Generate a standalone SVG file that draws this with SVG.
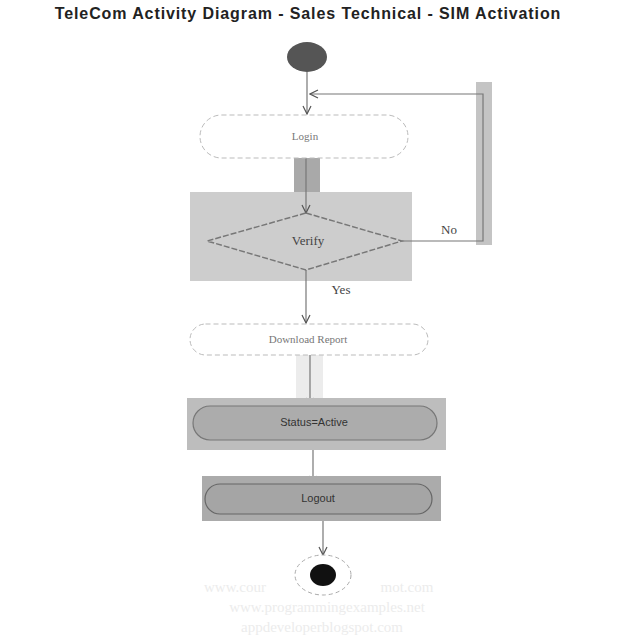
<svg xmlns="http://www.w3.org/2000/svg" width="640" height="640" viewBox="0 0 640 640">
<defs>
<style>
.title{font-family:"Liberation Sans",Arial,sans-serif;font-weight:bold;font-size:16px;letter-spacing:0.9px;fill:#222}
.lbl{font-family:"Liberation Serif","Times New Roman",serif;font-size:11px;fill:#777;text-anchor:middle;dominant-baseline:middle}
.lbld{font-family:"Liberation Sans",Arial,sans-serif;font-size:11px;fill:#333;text-anchor:middle;dominant-baseline:middle}
.guard{font-family:"Liberation Serif","Times New Roman",serif;font-size:13px;fill:#444;text-anchor:middle;dominant-baseline:middle}
.wm{font-family:"Liberation Serif","Times New Roman",serif;font-size:15px;fill:#ececec;text-anchor:middle}
.conn{fill:none;stroke:#777;stroke-width:1.2}
.pill{fill:#fff;stroke:#bbb;stroke-width:1;stroke-dasharray:5 3}
</style>
<marker id="arr" markerWidth="10" markerHeight="10" refX="9" refY="5" orient="auto" markerUnits="userSpaceOnUse">
<path d="M1,1 L9,5 L1,9" fill="none" stroke="#555" stroke-width="1.2"/>
</marker>
</defs>
<rect width="640" height="640" fill="#fff"/>
<text class="title" x="308" y="19" text-anchor="middle">TeleCom Activity Diagram - Sales Technical - SIM Activation</text>

<!-- highlight backgrounds -->
<rect x="476" y="82" width="16" height="163" fill="#c4c4c4"/>
<rect x="294" y="158" width="26" height="57" fill="#a9a9a9"/>
<rect x="190" y="192" width="222" height="89" fill="#cdcdcd"/>
<rect x="296" y="355" width="27" height="45" fill="#ececec"/>

<g id="connectors">
<path class="conn" d="M307,72 L307,114" marker-end="url(#arr)"/>
<path class="conn" d="M306,158 L306,213" stroke="#444" marker-end="url(#arr)"/>
<path class="conn" d="M402,241 L483,241 L483,94 L310,94" marker-end="url(#arr)"/>
<path class="conn" d="M306,270 L306,323" marker-end="url(#arr)"/>
<path class="conn" d="M310,355 L310,406" stroke="#444" marker-end="url(#arr)"/>
<path class="conn" d="M313,440 L313,484" stroke="#999" marker-end="url(#arr)"/>
<path class="conn" d="M323,514 L323,555" marker-end="url(#arr)"/>
<text class="guard" x="449" y="231">No</text>
<text class="guard" x="341" y="291">Yes</text>
</g>

<g id="start">
<ellipse cx="307" cy="57" rx="20" ry="15" fill="#555"/>
</g>

<g id="login">
<rect class="pill" x="200" y="115" width="208" height="43" rx="21.5"/>
<text class="lbl" x="305" y="137">Login</text>
</g>

<g id="verify">
<polygon points="306,213 402,241 306,270 207,241" fill="#cdcdcd" stroke="#777" stroke-width="1.5" stroke-dasharray="6 2"/>
<text class="guard" x="308" y="242">Verify</text>
</g>

<g id="download">
<rect class="pill" x="190" y="324" width="238" height="31" rx="15.5"/>
<text class="lbl" x="308" y="340">Download Report</text>
</g>

<g id="status">
<rect x="187" y="398" width="259" height="52" fill="#bdbdbd"/>
<rect x="193" y="406" width="244" height="34" rx="17" fill="#acacac" stroke="#777" stroke-width="1.2"/>
<text class="lbld" x="314" y="423">Status=Active</text>
</g>

<g id="logout">
<rect x="202" y="476" width="239" height="45" fill="#ababab"/>
<rect x="205" y="484" width="227" height="30" rx="15" fill="#a5a5a5" stroke="#666" stroke-width="1.2"/>
<text class="lbld" x="318" y="499">Logout</text>
</g>

<g id="end">
<ellipse cx="323" cy="575" rx="28" ry="20" fill="#fff" stroke="#aaa" stroke-width="1" stroke-dasharray="4 3"/>
<ellipse cx="323" cy="575" rx="13" ry="11" fill="#111"/>
</g>

<g id="watermark">
<text class="wm" x="235" y="592">www.cour</text>
<text class="wm" x="407" y="592">mot.com</text>
<text class="wm" x="327" y="612">www.programmingexamples.net</text>
<text class="wm" x="322" y="632">appdeveloperblogspot.com</text>
</g>
</svg>
